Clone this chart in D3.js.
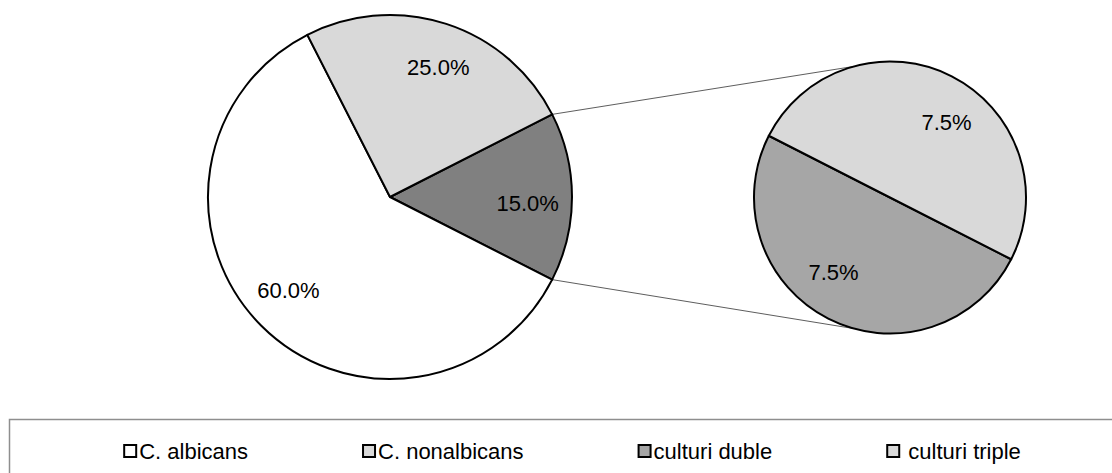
<!DOCTYPE html>
<html>
<head>
<meta charset="utf-8">
<script src="https://cdn.jsdelivr.net/npm/d3@7"></script>
<style>
  html, body { margin: 0; padding: 0; background: #fff; }
  svg { display: block; font-family: "Liberation Sans", Arial, sans-serif; }
</style>
</head>
<body>
<svg id="chart" width="1112" height="473"></svg>
<script>
// Main pie: single-species cultures
const mainCategories = ["C. albicans", "C. nonalbicans"];
const mainValues = [60.0, 25.0];
const mainColors = ["#ffffff", "#d9d9d9"];

// Secondary pie: mixed cultures (grouped as one slice in the main pie)
const subCategories = ["culturi duble", "culturi triple"];
const subValues = [7.5, 7.5];
const subColors = ["#a6a6a6", "#d9d9d9"];
const otherColor = "#808080";

const legendLabels = ["C. albicans", "C. nonalbicans", "culturi duble", " culturi triple"];
const legendColors = ["#ffffff", "#d9d9d9", "#a6a6a6", "#d9d9d9"];

const fmt = d => d3.format(".1f")(d) + "%";
const svg = d3.select("#chart");
const deg = Math.PI / 180;

// geometry
const main = { cx: 390, cy: 197, r: 182 };
const sub = { cx: 890, cy: 197.5, r: 136 };

const otherValue = d3.sum(subValues);
const total = d3.sum(mainValues) + otherValue;
const otherSpan = otherValue / total * 2 * Math.PI;

// main slices, ordered clockwise starting with the grouped slice centred on the right
const mainData = [
  { label: "other", value: otherValue, color: otherColor },
  ...mainCategories.map((c, i) => ({ label: c, value: mainValues[i], color: mainColors[i] }))
];
const mainPie = d3.pie().sort(null).value(d => d.value)
  .startAngle(Math.PI / 2 - otherSpan / 2)
  .endAngle(Math.PI / 2 - otherSpan / 2 + 2 * Math.PI);
const mainArcs = mainPie(mainData);
const mainArc = d3.arc().innerRadius(0).outerRadius(main.r);
const mainLabelR = main.r * 0.757;
const mainLabelTurn = 2.5 * deg;

const subData = subCategories.map((c, i) => ({ label: c, value: subValues[i], color: subColors[i] }));
const subStart = Math.PI / 2 + otherSpan / 2;
const subPie = d3.pie().sort(null).value(d => d.value)
  .startAngle(subStart).endAngle(subStart + 2 * Math.PI);
const subArcs = subPie(subData);
const subArc = d3.arc().innerRadius(0).outerRadius(sub.r);
const subLabelR = sub.r * 0.69;
const subLabelTurn = 10 * deg;

const labelPos = (d, r, turn) => {
  const a = (d.startAngle + d.endAngle) / 2 + turn;
  return `translate(${r * Math.sin(a)},${-r * Math.cos(a)})`;
};

// connector lines between the grouped slice and the secondary pie
const pt = (c, r, a) => [c.cx + r * Math.sin(a), c.cy - r * Math.cos(a)];
const connectorTilt = 15.5 * deg;
const connectors = [
  [pt(main, main.r, Math.PI / 2 - otherSpan / 2), pt(sub, sub.r, -connectorTilt)],
  [pt(main, main.r, Math.PI / 2 + otherSpan / 2), pt(sub, sub.r, Math.PI + connectorTilt)]
];
svg.append("g").selectAll("line").data(connectors).join("line")
  .attr("x1", d => d[0][0]).attr("y1", d => d[0][1])
  .attr("x2", d => d[1][0]).attr("y2", d => d[1][1])
  .attr("stroke", "#333").attr("stroke-width", 0.8);

// main pie
const gMain = svg.append("g").attr("transform", `translate(${main.cx},${main.cy})`);
gMain.selectAll("path").data(mainArcs).join("path")
  .attr("d", mainArc)
  .attr("fill", d => d.data.color)
  .attr("stroke", "#000").attr("stroke-width", 2).attr("stroke-linejoin", "round");
gMain.selectAll("text").data(mainArcs).join("text")
  .attr("transform", d => labelPos(d, mainLabelR, mainLabelTurn))
  .attr("text-anchor", "middle").attr("dominant-baseline", "central")
  .attr("font-size", 22).attr("fill", "#000")
  .text(d => fmt(d.data.value / total * 100));

// secondary pie
const gSub = svg.append("g").attr("transform", `translate(${sub.cx},${sub.cy})`);
gSub.selectAll("path").data(subArcs).join("path")
  .attr("d", subArc)
  .attr("fill", d => d.data.color)
  .attr("stroke", "#000").attr("stroke-width", 2).attr("stroke-linejoin", "round");
gSub.selectAll("text").data(subArcs).join("text")
  .attr("transform", d => labelPos(d, subLabelR, subLabelTurn))
  .attr("text-anchor", "middle").attr("dominant-baseline", "central")
  .attr("font-size", 22).attr("fill", "#000")
  .text(d => fmt(d.data.value / total * 100));

// legend
const legend = svg.append("g");
legend.append("rect")
  .attr("x", 9.5).attr("y", 419.5).attr("width", 1130).attr("height", 90)
  .attr("fill", "none").attr("stroke", "#8e8e8e").attr("stroke-width", 1.5);

const legendY = 451;
const sw = 12, swGap = 3, itemGap = 115, legendCenter = 571.5;
const items = legend.selectAll("g.item").data(legendLabels).join("g").attr("class", "item");
items.append("rect")
  .attr("x", 1).attr("y", -sw / 2).attr("width", sw).attr("height", sw)
  .attr("fill", (d, i) => legendColors[i]).attr("stroke", "#000").attr("stroke-width", 2);
items.append("text")
  .attr("x", sw + 1 + swGap).attr("y", 0)
  .attr("dominant-baseline", "central").attr("font-size", 22).attr("fill", "#000")
  .style("white-space", "pre")
  .text(d => d);

const widths = [];
items.each(function () { widths.push(this.getBBox().width); });
const totalW = d3.sum(widths) + itemGap * (widths.length - 1);
let x = legendCenter - totalW / 2;
items.attr("transform", (d, i) => {
  const t = `translate(${x},${legendY})`;
  x += widths[i] + itemGap;
  return t;
});
</script>
</body>
</html>
